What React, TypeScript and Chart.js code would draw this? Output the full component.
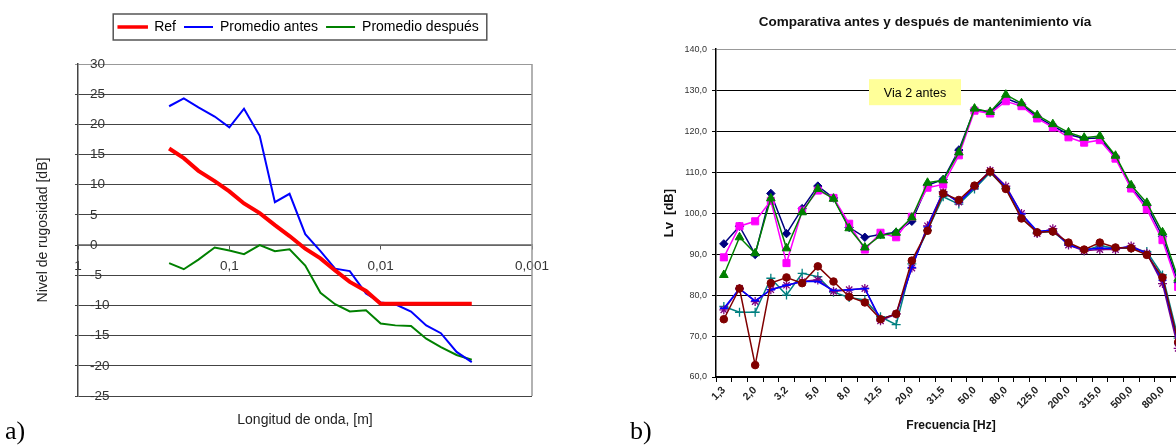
import React, { useEffect, useRef } from 'react';
import { Chart, registerables } from 'chart.js';

Chart.register(...registerables);

const FONT = '"Liberation Sans", Arial, sans-serif';
Chart.defaults.font.family = FONT;

// ---------- Chart a) : roughness level vs wavelength ----------
const wavelengths = [0.25, 0.2, 0.16, 0.125, 0.1, 0.08, 0.063, 0.05, 0.04, 0.0315, 0.025, 0.02, 0.016, 0.0125, 0.01, 0.008, 0.0063, 0.005, 0.004, 0.00315, 0.0025];
const refLevels = [16.0, 14.4, 12.3, 10.6, 8.9, 6.9, 5.3, 3.3, 1.5, -0.6, -2.2, -4.2, -6.1, -7.6, -9.7, -9.7, -9.7, -9.7, -9.7, -9.7, -9.7];
const antesLevels = [23.0, 24.3, 22.8, 21.3, 19.5, 22.6, 18.1, 7.1, 8.5, 1.8, -1.0, -3.9, -4.3, -8.0, -9.5, -9.8, -11.0, -13.3, -14.6, -17.7, -19.4];
const despuesLevels = [-3.0, -4.0, -2.4, -0.4, -0.9, -1.5, 0.0, -1.0, -0.7, -3.4, -7.9, -9.8, -11.0, -10.8, -13.0, -13.3, -13.4, -15.5, -16.9, -18.2, -19.0];
const waveTicks = [1, 0.1, 0.01, 0.001];
const waveTickLabels = ['1', '0,1', '0,01', '0,001'];
const seriesNamesA = ['Ref', 'Promedio antes', 'Promedio después'];

// ---------- Chart b) : vibration level vs frequency ----------
const freqLabels = ['1,3', '1,6', '2,0', '2,5', '3,2', '4,0', '5,0', '6,3', '8,0', '10,0', '12,5', '16,0', '20,0', '25,0', '31,5', '40,0', '50,0', '63,0', '80,0', '100,0', '125,0', '160,0', '200,0', '250,0', '315,0', '400,0', '500,0', '630,0', '800,0', '1000,0'];
const serieNavy = [92.5, 96.8, 89.9, 104.8, 95.0, 101.1, 106.6, 103.7, 96.5, 94.1, 94.8, 95.3, 98.0, 106.8, 108.2, 115.4, 125.3, 124.6, 128.0, 126.5, 123.5, 121.3, 119.2, 118.2, 118.3, 113.7, 106.2, 101.8, 94.3, 83.0];
const serieMagenta = [89.2, 96.8, 98.0, 103.0, 87.8, 100.6, 105.5, 103.7, 97.4, 91.1, 95.2, 94.1, 99.1, 106.2, 107.0, 114.1, 125.0, 124.3, 127.3, 126.1, 123.1, 120.9, 118.5, 117.2, 117.8, 113.3, 106.0, 100.9, 93.4, 82.0];
const serieGreen = [84.9, 94.1, 90.2, 103.6, 91.4, 100.2, 105.9, 103.5, 96.3, 91.6, 94.5, 95.2, 98.9, 107.4, 108.0, 114.8, 125.5, 124.7, 128.9, 126.8, 123.9, 121.7, 119.7, 118.4, 118.8, 114.0, 106.8, 102.5, 95.3, 84.0];
const serieRed = [74.1, 81.6, 62.9, 82.9, 84.3, 82.9, 87.0, 83.3, 79.6, 78.2, 74.1, 75.4, 88.4, 95.7, 104.8, 103.2, 106.7, 110.1, 105.9, 98.7, 95.3, 95.5, 92.8, 91.1, 92.8, 91.6, 91.4, 89.8, 84.3, 68.5];
const serieTeal = [77.2, 75.8, 75.8, 84.1, 80.0, 85.3, 84.5, 80.7, 79.4, 78.8, 74.7, 72.8, 87.6, 95.8, 104.0, 102.2, 105.9, 109.9, 106.0, 99.0, 95.2, 95.5, 92.5, 90.8, 92.0, 91.4, 91.4, 90.6, 84.9, 69.5];
const serieBlue = [76.8, 81.5, 78.6, 81.3, 82.4, 83.3, 83.3, 81.1, 81.3, 81.6, 74.1, 75.4, 86.7, 96.6, 105.2, 102.6, 106.3, 110.2, 106.4, 99.8, 95.6, 95.8, 92.2, 91.1, 91.4, 91.4, 91.8, 90.2, 83.6, 68.1];
const seriePurple = [76.4, 81.6, 78.4, 81.3, 82.4, 83.3, 83.7, 80.9, 81.3, 81.6, 73.7, 75.4, 86.6, 96.9, 105.2, 102.7, 106.5, 110.4, 106.6, 99.9, 95.0, 96.2, 92.2, 90.8, 91.1, 91.1, 92.0, 90.2, 82.8, 67.0];
const titleB = 'Comparativa antes y después de mantenimiento vía';
const boxTextB = 'Via 2 antes';

const legendFrame = {
  id: 'legendFrame',
  afterDraw(chart: any) {
    const lg = chart.legend;
    if (!lg || !lg.legendHitBoxes || !lg.legendHitBoxes.length) return;
    const hb = lg.legendHitBoxes;
    const first = hb[0];
    const last = hb[hb.length - 1];
    const left = first.left - 5;
    const right = last.left + last.width + 8;
    const cy = first.top + first.height / 2;
    const ctx = chart.ctx;
    ctx.save();
    ctx.strokeStyle = '#555';
    ctx.lineWidth = 1.5;
    ctx.strokeRect(left, cy - 13, right - left, 26);
    ctx.restore();
  },
};

const frameA = {
  id: 'frameA',
  beforeDatasetsDraw(chart: any) {
    const { ctx, chartArea } = chart;
    ctx.save();
    ctx.strokeStyle = '#999';
    ctx.lineWidth = 1.5;
    ctx.beginPath();
    ctx.moveTo(chartArea.right, chartArea.top);
    ctx.lineTo(chartArea.right, chartArea.bottom);
    ctx.stroke();
    ctx.restore();
  },
};

const viaBox = {
  id: 'viaBox',
  beforeDatasetsDraw(chart: any) {
    const { ctx, chartArea } = chart;
    const x = chartArea.left + 153;
    const y = chartArea.top + 30;
    const w = 92;
    const h = 26;
    ctx.save();
    ctx.fillStyle = '#FFFF99';
    ctx.fillRect(x, y, w, h);
    ctx.fillStyle = '#000';
    ctx.font = `12.5px ${FONT}`;
    ctx.textAlign = 'center';
    ctx.textBaseline = 'middle';
    ctx.fillText(boxTextB, x + w / 2, y + h / 2 + 1);
    ctx.restore();
  },
};

function ChartA() {
  const ref = useRef<HTMLCanvasElement | null>(null);
  useEffect(() => {
    if (!ref.current) return;
    const colors = ['#FF0000', '#0000FF', '#008000'];
    const series = [refLevels, antesLevels, despuesLevels];
    const chart = new Chart(ref.current, {
      type: 'line',
      data: {
        datasets: series.map((s, k) => ({
          label: seriesNamesA[k],
          data: wavelengths.map((w, i) => ({ x: w, y: s[i] })),
          borderColor: colors[k],
          backgroundColor: colors[k],
          borderWidth: k === 0 ? 4 : 2,
          pointRadius: 0,
          tension: 0,
          xAxisID: 'x',
          yAxisID: 'y',
        })),
      },
      options: {
        responsive: false,
        animation: false,
        layout: { padding: { left: 31, right: 34, top: 12, bottom: 12 } },
        plugins: {
          tooltip: { enabled: false },
          legend: {
            display: true,
            position: 'top',
            labels: {
              boxWidth: 29,
              boxHeight: 2,
              padding: 8,
              color: '#111',
              font: { size: 14, family: FONT },
              generateLabels: (c: any) =>
                c.data.datasets.map((d: any, i: number) => ({
                  text: d.label,
                  fillStyle: d.borderColor,
                  strokeStyle: d.borderColor,
                  lineWidth: i === 0 ? 1.5 : 0,
                  hidden: false,
                  datasetIndex: i,
                })),
            },
          },
        },
        scales: {
          x: {
            type: 'logarithmic',
            reverse: true,
            min: 0.001,
            max: 1,
            position: { y: 0 },
            afterBuildTicks: (s: any) => {
              s.ticks = waveTicks.map((v) => ({ value: v }));
            },
            ticks: {
              autoSkip: false,
              maxRotation: 0,
              padding: 9,
              color: '#333',
              font: { size: 13.5 },
              callback: (v: any) => {
                const i = waveTicks.indexOf(Number(v));
                return i >= 0 ? waveTickLabels[i] : '';
              },
            },
            grid: { drawOnChartArea: false, tickLength: 4, color: '#555' },
            border: { display: true, color: '#888', width: 1.5 },
          },
          y: {
            type: 'linear',
            position: 'left',
            min: -25,
            max: 30,
            ticks: { stepSize: 5, mirror: true, padding: 12, color: '#333', font: { size: 13.5 } },
            grid: { color: (c: any) => (c.tick && c.tick.value === 30 ? '#999' : '#444'), tickLength: 3 },
            border: { color: '#444', width: 1.5 },
            title: { display: true, text: 'Nivel de rugosidad [dB]', color: '#222', font: { size: 14 }, padding: { top: 4, bottom: 0 } },
            afterFit: (s: any) => {
              s.width = 47;
            },
          },
          xt: {
            type: 'linear',
            axis: 'x',
            position: 'bottom',
            ticks: { display: false },
            grid: { display: false },
            border: { display: false },
            title: { display: true, text: 'Longitud de onda, [m]', color: '#222', font: { size: 14 }, padding: { top: 0, bottom: 4 } },
            afterFit: (s: any) => {
              s.height = 37;
            },
          },
          xtop: {
            type: 'linear',
            axis: 'x',
            position: 'top',
            ticks: { display: false },
            grid: { display: false },
            border: { display: false },
            afterFit: (s: any) => {
              s.height = 20;
            },
          },
          yr: {
            type: 'linear',
            axis: 'y',
            position: 'right',
            ticks: { display: false },
            grid: { display: false },
            border: { display: false },
            afterFit: (s: any) => {
              s.width = 34;
            },
          },
        },
      } as any,
      plugins: [legendFrame, frameA],
    });
    return () => chart.destroy();
  }, []);
  return <canvas ref={ref} width={600} height={445} style={{ position: 'absolute', left: 0, top: 0, width: 600, height: 445 }} />;
}

function ChartB() {
  const ref = useRef<HTMLCanvasElement | null>(null);
  useEffect(() => {
    if (!ref.current) return;
    const mk = (label: string, data: number[], color: string, pointStyle: string, radius: number, pbw: number) => ({
      label,
      data,
      borderColor: color,
      backgroundColor: color,
      borderWidth: 1.5,
      pointStyle,
      pointRadius: radius,
      pointBackgroundColor: color,
      pointBorderColor: color,
      pointBorderWidth: pbw,
      tension: 0,
      xAxisID: 'x',
      yAxisID: 'y',
    });
    const chart = new Chart(ref.current, {
      type: 'line',
      data: {
        labels: freqLabels,
        datasets: [
          mk('Serie 3', serieGreen, '#008000', 'triangle', 5, 1),
          mk('Serie 2', serieMagenta, '#FF00FF', 'rect', 5, 1),
          mk('Serie 1', serieNavy, '#000080', 'rectRot', 4.2, 1),
          mk('Serie 6', serieRed, '#800000', 'circle', 3.8, 1),
          mk('Serie 8', serieBlue, '#0000FF', 'line', 4, 1.5),
          mk('Serie 5', seriePurple, '#800080', 'star', 4.5, 1.3),
          mk('Serie 7', serieTeal, '#008080', 'cross', 4.5, 1.3),
        ],
      },
      options: {
        responsive: false,
        animation: false,
        layout: { padding: { left: 40, right: 10, top: 8, bottom: 5 } },
        plugins: {
          legend: { display: false },
          tooltip: { enabled: false },
          title: {
            display: true,
            text: titleB,
            color: '#111',
            font: { size: 13.5, weight: 'bold' },
            padding: { top: 6, bottom: 19 },
          },
        },
        scales: {
          x: {
            type: 'category',
            offset: true,
            ticks: {
              autoSkip: false,
              minRotation: 45,
              maxRotation: 45,
              padding: 2,
              color: '#222',
              font: { size: 10.5, weight: 'bold' },
              callback: (_v: any, i: number) => (i % 2 === 0 ? freqLabels[i] : ''),
            },
            grid: { offset: true, drawOnChartArea: false, tickLength: 5, color: '#000' },
            border: { color: '#000', width: 1.5 },
            title: { display: true, text: 'Frecuencia [Hz]', color: '#111', font: { size: 12, weight: 'bold' }, padding: { top: 0, bottom: 7 } },
            afterFit: (s: any) => {
              s.height = 63;
            },
          },
          y: {
            type: 'linear',
            position: 'left',
            min: 60,
            max: 140,
            ticks: {
              stepSize: 10,
              padding: 5,
              color: '#333',
              font: { size: 9 },
              callback: (v: any) => Number(v).toFixed(1).replace('.', ','),
            },
            grid: { color: (c: any) => (c.tick && c.tick.value === 140 ? '#999' : '#000'), tickLength: 4 },
            border: { color: '#000', width: 1.5 },
            title: { display: true, text: 'Lv  [dB]', color: '#111', font: { size: 13, weight: 'bold' }, padding: { top: 22, bottom: 0 } },
            afterFit: (s: any) => {
              s.width = 76;
            },
          },
          yr: {
            type: 'linear',
            axis: 'y',
            position: 'right',
            ticks: { display: false },
            grid: { display: false },
            border: { display: false },
            afterFit: (s: any) => {
              s.width = 24;
            },
          },
        },
      } as any,
      plugins: [viaBox],
    });
    return () => chart.destroy();
  }, []);
  return <canvas ref={ref} width={620} height={445} style={{ position: 'absolute', left: 600, top: 0, width: 620, height: 445 }} />;
}

export default function App() {
  const labelStyle: React.CSSProperties = {
    position: 'absolute',
    top: 418,
    fontFamily: '"Liberation Serif", "Times New Roman", serif',
    fontSize: 26,
    lineHeight: '26px',
    color: '#000',
  };
  return (
    <div style={{ position: 'fixed', left: 0, top: 0, width: 1176, height: 445, overflow: 'hidden', background: '#fff' }}>
      <ChartA />
      <ChartB />
      <span style={{ ...labelStyle, left: 5 }}>a)</span>
      <span style={{ ...labelStyle, left: 630 }}>b)</span>
    </div>
  );
}
